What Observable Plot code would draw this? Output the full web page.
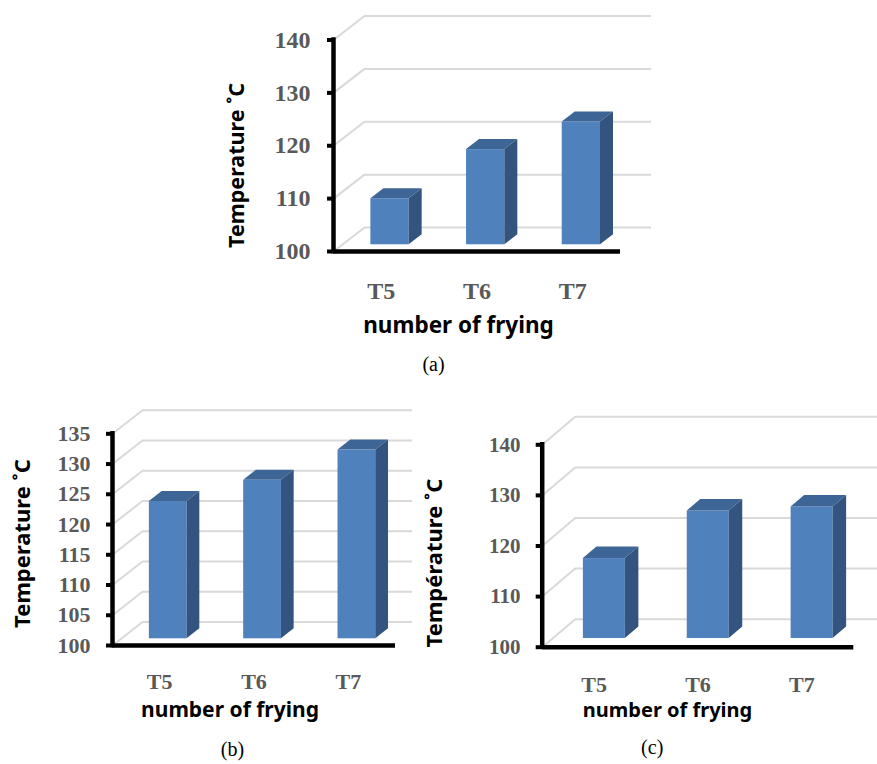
<!DOCTYPE html>
<html><head><meta charset="utf-8">
<script src="https://cdn.jsdelivr.net/npm/d3@7"></script>
<script src="https://cdn.jsdelivr.net/npm/@observablehq/plot@0.6"></script>
<style>
body{margin:0;background:#fff;}
#wrap{position:relative;width:877px;height:764px;overflow:hidden;background:#fff;}
.panel{position:absolute;}
.panel svg{overflow:hidden;}
</style></head><body><div id="wrap"></div>
<script>
// ---- data ----
const categories = ["T5", "T6", "T7"];
const tempA = [108.7, 118.0, 123.2];
const tempB = [122.7, 126.2, 131.2];
const tempC = [115.8, 125.2, 126.0];
const ticksA = [100, 110, 120, 130, 140];
const ticksB = [100, 105, 110, 115, 120, 125, 130, 135];
const ticksC = [100, 110, 120, 130, 140];
const xTitle = "number of frying";
const yTitleAB = "Temperature ˚C";
const yTitleC = "Température ˚C";
const captions = ["(a)", "(b)", "(c)"];

const FRONT = "#4F81BD", TOP = "#3D6596", SIDE = "#33547F", GRID = "#D9D9D9";

function panel(o) {
  const {values, ticks, width, height, ml, mr, mt, mb, depth, f1, f2, bw} = o;
  const n = categories.length;
  const ymin = ticks[0], ymax = ticks[ticks.length - 1];
  const kx = (width - ml - mr) / n;
  const ky = (height - mt - mb) / (ymax - ymin);
  const DX = depth[0] / kx, DY = depth[1] / ky;
  const bars = categories.map((c, i) => ({c, v: values[i], L: i + 0.5 - bw / 2, R: i + 0.5 + bw / 2}));
  const fronts = bars.map(b => ({c: b.c, x1: b.L + f1 * DX, x2: b.R + f1 * DX, y1: ymin + f1 * DY, y2: b.v + f1 * DY}));
  const tops = bars.flatMap(b => [f1, f2].map(f => ({c: b.c, y: b.v + f * DY, x1: b.L + f * DX, x2: b.R + f * DX})));
  const sides = bars.flatMap(b => [f1, f2].map(f => ({c: b.c, x: b.R + f * DX, y1: ymin + f * DY, y2: b.v + f * DY})));
  return Plot.plot({
    width, height, marginLeft: ml, marginRight: mr, marginTop: mt, marginBottom: mb,
    x: {type: "linear", domain: [0, n]},
    y: {type: "linear", domain: [ymin, ymax]},
    style: {background: "white", overflow: "hidden"},
    marks: [
      Plot.ruleY(ticks, {y: d => d + DY, x1: () => DX, x2: () => n + DX, stroke: GRID, strokeWidth: 2}),
      Plot.link(ticks, {x1: () => 0, y1: d => d, x2: () => DX, y2: d => d + DY, stroke: GRID, strokeWidth: 2}),
      Plot.rect(fronts, {x1: "x1", x2: "x2", y1: "y1", y2: "y2", fill: FRONT}),
      Plot.areaX(tops, {y: "y", x1: "x1", x2: "x2", z: "c", fill: TOP}),
      Plot.areaY(sides, {x: "x", y1: "y1", y2: "y2", z: "c", fill: SIDE}),
      Plot.ruleY([ymin], {x1: () => 0, x2: () => n, stroke: "black", strokeWidth: 4.5}),
      Plot.ruleX([0], {y1: () => ymin, y2: () => ymax, stroke: "black", strokeWidth: 4.5, strokeLinecap: "square"}),
      Plot.axisY({ticks, tickSize: 6, tickPadding: o.yPad, stroke: "black", strokeWidth: 4, color: "#595959",
        fontFamily: "Liberation Serif", fontWeight: "bold", fontSize: o.tickFont, label: null}),
      Plot.axisX({ticks: categories.map((c, i) => i + 0.5), tickFormat: d => categories[Math.floor(d)],
        tickSize: 0, tickPadding: o.xPad, color: "#595959",
        fontFamily: "Liberation Serif", fontWeight: "bold", fontSize: o.xFont, label: null}),
      Plot.text([xTitle], {text: d => d, frameAnchor: "bottom", textAnchor: "middle", lineAnchor: "middle",
        dx: o.xt[0], dy: o.xt[1],
        fontFamily: "Noto Sans", fontWeight: "bold", fontSize: o.xtFont, fill: "black"}),
      Plot.text([o.yTitle], {text: d => d, frameAnchor: "left", textAnchor: "middle", lineAnchor: "middle",
        rotate: -90, dx: o.yt[0], dy: o.yt[1],
        fontFamily: "Noto Sans", fontWeight: "bold", fontSize: o.ytFont, fill: "black"}),
      Plot.text([o.caption], {text: d => d, frameAnchor: "bottom", textAnchor: "middle", lineAnchor: "middle",
        dx: o.cap[0], dy: o.cap[1],
        fontFamily: "Liberation Serif", fontSize: 20, fill: "black"})
    ]
  });
}

function place(node, left, top) {
  const d = document.createElement("div");
  d.className = "panel";
  d.style.left = left + "px";
  d.style.top = top + "px";
  d.appendChild(node);
  document.getElementById("wrap").appendChild(d);
}

place(panel({values: tempA, ticks: ticksA, width: 460, height: 380, ml: 133, mr: 40, mt: 39.5, mb: 129,
  depth: [31, 24], f1: 0.28, f2: 0.70, bw: 0.4, tickFont: 24, xFont: 24, yPad: 17, xPad: 30,
  xt: [-18.5, 74], xtFont: 22.5, yTitle: yTitleAB, yt: [-96, 19.75], ytFont: 21.5, caption: captions[0], cap: [-43.5, 112.7]}), 200, 0);

place(panel({values: tempB, ticks: ticksB, width: 412, height: 374, ml: 112, mr: 17, mt: 43.3, mb: 119,
  depth: [30, 23.5], f1: 0.285, f2: 0.71, bw: 0.4, tickFont: 22, xFont: 22, yPad: 16, xPad: 28,
  xt: [-24, 64.8], xtFont: 21, yTitle: yTitleAB, yt: [-89.5, 3.85], ytFont: 22, caption: captions[1], cap: [-21.5, 103.7]}), 0, 390);

place(panel({values: tempC, ticks: ticksC, width: 465, height: 374, ml: 129.7, mr: 23.7, mt: 54.3, mb: 117.3,
  depth: [33, 28], f1: 0.31, f2: 0.72, bw: 0.404, tickFont: 21, xFont: 22, yPad: 15.7, xPad: 28.7,
  xt: [-30.5, 63.2], xtFont: 20, yTitle: yTitleC, yt: [-107.6, 17], ytFont: 22, caption: captions[2], cap: [-45.8, 100.5]}), 412, 390);
</script></body></html>
